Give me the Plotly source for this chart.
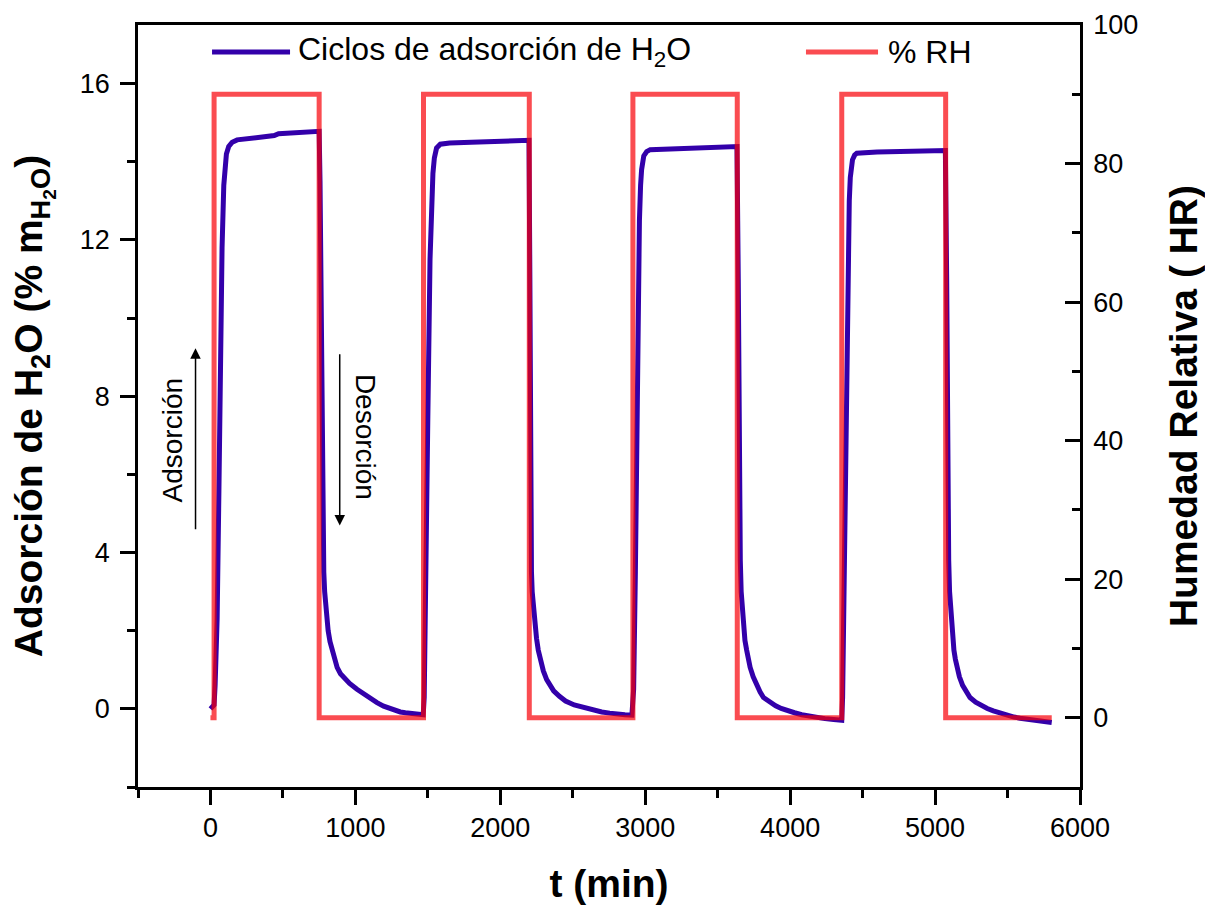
import plotly.graph_objects as go

# Water uptake (% mass) over four humidity cycles
ads_t = [0, 25, 32, 46, 58, 69, 80, 92, 100, 110, 126, 150, 184, 280, 391, 440, 470, 600, 736, 750,
         756, 760, 765, 770, 776, 782, 788, 795, 803, 812, 825, 839, 856, 874, 897, 920, 960, 1011, 1045,
         1080, 1115, 1149, 1195, 1241, 1275, 1310, 1345, 1379, 1415, 1448, 1468,
         1475, 1485, 1500, 1515, 1525, 1535, 1545, 1560, 1586, 1650, 1800, 2000, 2198,
         2204, 2207, 2210, 2215, 2220, 2230, 2240, 2250, 2262, 2276, 2297, 2320, 2343, 2368, 2408, 2450,
         2510, 2575, 2640, 2700, 2755, 2805, 2860, 2908,
         2920, 2932, 2945, 2960, 2968, 2975, 2990, 3010, 3034, 3200, 3400, 3633,
         3642, 3646, 3650, 3656, 3662, 3670, 3678, 3688, 3700, 3712, 3724, 3745, 3770, 3793, 3816, 3858,
         3900, 3938, 3977, 4030, 4080, 4130, 4184, 4240, 4300, 4356,
         4362, 4372, 4385, 4400, 4408, 4415, 4430, 4445, 4460, 4600, 4800, 5071,
         5080, 5084, 5088, 5094, 5100, 5108, 5115, 5122, 5130, 5140, 5149, 5168, 5190, 5215, 5241, 5280,
         5320, 5360, 5402, 5450, 5500, 5545, 5586, 5640, 5700, 5750, 5805]
ads_v = [0.0, 0.1, 0.6, 2.3, 5.5, 9.1, 11.8, 13.4, 13.9, 14.2, 14.39, 14.5, 14.56, 14.6, 14.65, 14.67, 14.72, 14.74, 14.76, 14.78,
         13.5, 11.5, 8.5, 5.5, 4.3, 3.5, 3.0, 2.6, 2.27, 2.0, 1.72, 1.49, 1.25, 1.06, 0.9, 0.8, 0.65, 0.5, 0.41,
         0.32, 0.24, 0.16, 0.07, 0.0, -0.04, -0.08, -0.1, -0.12, -0.13, -0.14, -0.15,
         0.3, 2.5, 7.5, 11.5, 12.9, 13.7, 14.1, 14.35, 14.45, 14.48, 14.5, 14.53, 14.55,
         11.0, 7.5, 4.5, 3.5, 3.0, 2.51, 2.12, 1.8, 1.5, 1.23, 0.97, 0.75, 0.59, 0.46, 0.32, 0.2,
         0.1, 0.03, -0.03, -0.08, -0.11, -0.14, -0.15, -0.16,
         0.5, 3.5, 8.5, 12.5, 13.4, 13.8, 14.15, 14.26, 14.31, 14.34, 14.37, 14.39,
         11.0, 8.0, 5.0, 3.8, 3.0, 2.5, 2.08, 1.75, 1.5, 1.27, 1.06, 0.82, 0.6, 0.43, 0.29, 0.17,
         0.08, 0.01, -0.05, -0.1, -0.15, -0.19, -0.22, -0.25, -0.27, -0.29,
         0.3, 3.0, 8.0, 12.0, 13.0, 13.6, 14.05, 14.17, 14.22, 14.25, 14.27, 14.29,
         11.0, 8.0, 5.0, 3.8, 3.0, 2.5, 2.08, 1.8, 1.5, 1.27, 1.06, 0.82, 0.6, 0.43, 0.29, 0.17,
         0.08, 0.01, -0.05, -0.11, -0.17, -0.21, -0.24, -0.27, -0.3, -0.33, -0.35]

# Relative humidity set-point switching times (min) and levels (%)
rh_t = [0, 25, 750, 1470, 2200, 2915, 3635, 4356, 5073, 5805]
rh_v = [0, 90, 0, 90, 0, 90, 0, 90, 0, 0]

x_ticks = [0, 1000, 2000, 3000, 4000, 5000, 6000]
y_ticks = [0, 4, 8, 12, 16]
y2_ticks = [0, 20, 40, 60, 80, 100]

FONT = "Liberation Sans, Arial, sans-serif"
BLUE = "#3300aa"
RED = "rgba(248,0,7,0.7)"

fig = go.Figure()
fig.add_trace(go.Scatter(x=ads_t, y=ads_v, mode="lines", yaxis="y",
                         line=dict(color=BLUE, width=5), showlegend=False))
fig.add_trace(go.Scatter(x=rh_t, y=rh_v, mode="lines", yaxis="y2",
                         line=dict(color=RED, width=5, shape="hv"), showlegend=False))

axis_common = dict(showgrid=False, zeroline=False, showline=True, linecolor="black",
                   linewidth=2.5, tickcolor="black", tickwidth=2.5, ticklen=15, automargin=False,
                   tickfont=dict(family=FONT, size=27, color="black"))

fig.update_layout(
    width=1205, height=905,
    margin=dict(l=138, r=125, t=25, b=118),
    paper_bgcolor="white", plot_bgcolor="white",
    font=dict(family=FONT, color="black"),
    xaxis=dict(range=[-500, 6000], tickvals=x_ticks, ticks="outside", mirror=True,
               ticklabelstandoff=0,
               minor=dict(dtick=500, tick0=0, ticks="outside", ticklen=8, tickwidth=2.5,
                          tickcolor="black", showgrid=False),
               title=dict(text="<b>t (min)</b>", font=dict(family=FONT, size=39), standoff=29),
               **axis_common),
    yaxis=dict(range=[-2, 17.5], tickvals=y_ticks, ticks="outside",
               ticklabelstandoff=5,
               minor=dict(dtick=2, tick0=0, ticks="outside", ticklen=8, tickwidth=2.5,
                          tickcolor="black", showgrid=False),
               title=dict(text="<b>Adsorción de H<sub>2</sub>O (% m<sub>H<sub>2</sub>O</sub>)</b>",
                          font=dict(family=FONT, size=39), standoff=26),
               **axis_common),
    yaxis2=dict(range=[-10, 100], tickvals=y2_ticks, ticks="inside", overlaying="y", side="right",
                ticklabelstandoff=5,
                minor=dict(dtick=10, tick0=0, ticks="inside", ticklen=8, tickwidth=2.5,
                           tickcolor="black", showgrid=False),
                title=dict(text="<b>Humedad Relativa ( HR)</b>", font=dict(family=FONT, size=39),
                           standoff=33),
                **axis_common),
)

# Legend drawn as sample lines with labels along the top of the plot
legend_y = 0.9646
fig.add_shape(type="line", xref="paper", yref="paper", x0=0.0786, x1=0.1614, y0=legend_y, y1=legend_y,
              line=dict(color=BLUE, width=5))
fig.add_shape(type="line", xref="paper", yref="paper", x0=0.7091, x1=0.7856, y0=legend_y, y1=legend_y,
              line=dict(color=RED, width=5))
fig.add_annotation(xref="paper", yref="paper", x=0.1677, y=legend_y, xanchor="left", yanchor="middle",
                   text="Ciclos de adsorción de H<sub>2</sub>O", showarrow=False,
                   font=dict(family=FONT, size=32, color="black"))
fig.add_annotation(xref="paper", yref="paper", x=0.794, y=legend_y, xanchor="left", yanchor="middle",
                   text="% RH", showarrow=False, font=dict(family=FONT, size=32, color="black"))

# Direction arrows with their labels
fig.add_annotation(x=-103, y=9.23, ax=-103, ay=4.56, xref="x", yref="y", axref="x", ayref="y",
                   text="", showarrow=True, arrowhead=2, arrowsize=1.4, arrowwidth=1.5, arrowcolor="black")
fig.add_annotation(x=892, y=4.69, ax=892, ay=9.11, xref="x", yref="y", axref="x", ayref="y",
                   text="", showarrow=True, arrowhead=2, arrowsize=1.4, arrowwidth=1.5, arrowcolor="black")
fig.add_annotation(x=-265, y=6.87, xref="x", yref="y", text="Adsorción", textangle=-90,
                   showarrow=False, font=dict(family=FONT, size=28, color="black"))
fig.add_annotation(x=1069, y=6.95, xref="x", yref="y", text="Desorción", textangle=90,
                   showarrow=False, font=dict(family=FONT, size=28, color="black"))

fig.write_html("out.html")
